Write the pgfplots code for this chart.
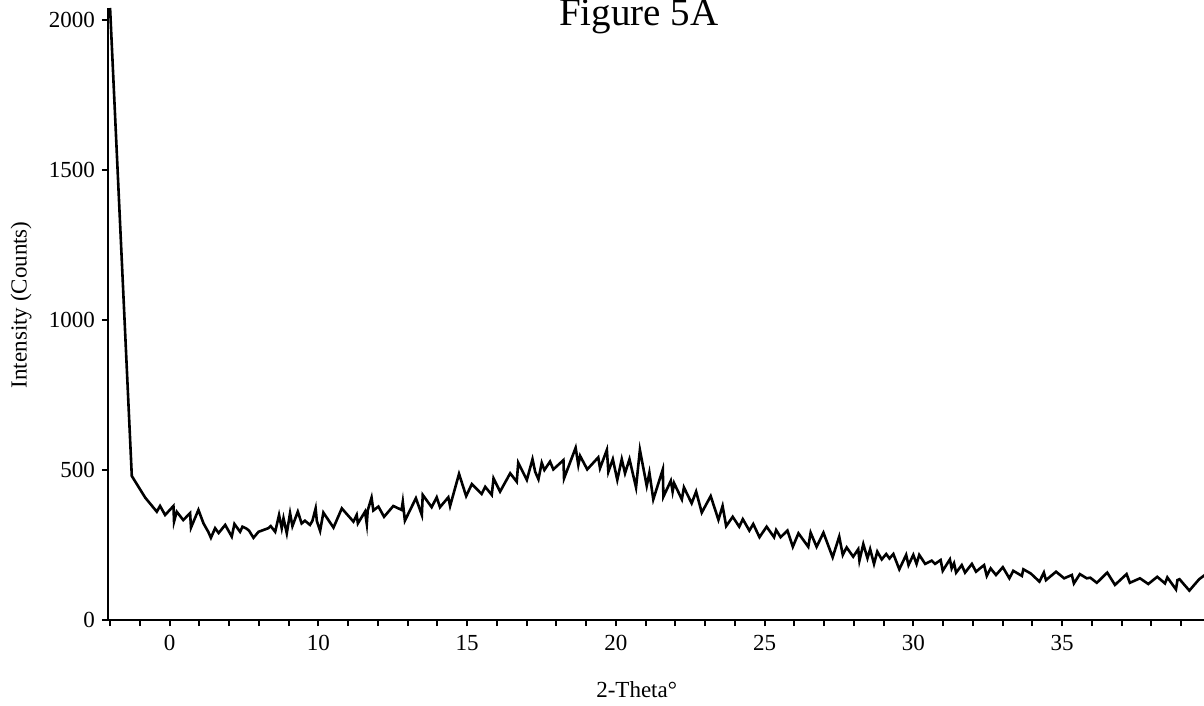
\documentclass[border=0pt]{standalone}
\usepackage{fontspec}
\setmainfont{Liberation Serif}
\usepackage{pgfplots}
\pgfplotsset{compat=1.18}
\begin{document}
\begin{tikzpicture}
\begin{axis}[
  at={(0,0)}, anchor=south west,
  scale only axis, width=548.4pt, height=306pt,
  xmin=2.93, xmax=39.8, ymin=0, ymax=2040,
  clip=false,
  axis x line=bottom, axis y line=left,
  axis line style={-, line width=1pt},
  xtick={5,10,15,20,25,30,35},
  xticklabels={0,10,15,20,25,30,35},
  minor xtick={3,4,...,39},
  ytick={0,500,1000,1500,2000},
  tick align=outside, major tick length=3pt, minor tick length=3pt,
  every tick/.style={black, line width=1pt},
  tick label style={font=\fontsize{11.5}{13}\selectfont},
  xticklabel style={yshift=-1pt},
  /pgf/number format/assume math mode=true,
  /pgf/number format/1000 sep={},
  xlabel={2-Theta°},
  ylabel={Intensity (Counts)},
  label style={font=\fontsize{11.5}{13}\selectfont},
  xlabel style={at={(axis description cs:0.482,0)}, anchor=center, yshift=-35pt},
  ylabel style={at={(axis description cs:-0.0793,0.515)}, anchor=center},
]
\addplot[black, line width=1.3pt, mark=none] coordinates {
(3.0,2040) (3.73,480) (4.18,408) (4.57,361) (4.68,380) (4.85,350) (5.13,380) (5.15,328)
(5.24,361) (5.46,333) (5.69,356) (5.72,308) (5.97,367) (6.14,322) (6.30,294) (6.39,274)
(6.53,306) (6.65,290) (6.87,317) (7.09,278) (7.18,320) (7.37,294) (7.45,311) (7.58,305)
(7.67,298) (7.82,274) (7.99,294) (8.32,306) (8.40,313) (8.55,294) (8.68,350) (8.77,306)
(8.83,339) (8.94,289) (9.05,356) (9.13,313) (9.31,361) (9.44,322) (9.55,331) (9.72,317)
(9.80,330) (9.91,372) (9.95,330) (10.06,297) (10.17,358) (10.51,308) (10.79,372) (11.18,328)
(11.29,350) (11.33,322) (11.57,361) (11.63,320) (11.66,365) (11.79,408) (11.85,365) (12.02,378)
(12.21,344) (12.52,380) (12.80,367) (12.84,394) (12.91,331) (13.28,406) (13.48,350) (13.51,417)
(13.81,376) (13.98,409) (14.09,376) (14.37,409) (14.43,380) (14.73,487) (14.97,413) (15.16,453)
(15.49,420) (15.61,444) (15.83,417) (15.89,472) (16.11,428) (16.45,489) (16.67,461) (16.72,524)
(17.01,467) (17.20,536) (17.29,494) (17.40,469) (17.51,524) (17.60,500) (17.79,528) (17.90,502)
(18.24,533) (18.26,472) (18.65,574) (18.74,517) (18.80,547) (19.04,502) (19.41,542) (19.47,506)
(19.70,567) (19.75,494) (19.90,536) (20.05,467) (20.20,536) (20.31,489) (20.46,536) (20.68,442)
(20.81,567) (21.04,447) (21.13,491) (21.26,402) (21.58,502) (21.60,411) (21.85,464) (21.91,428)
(21.96,456) (22.22,402) (22.29,442) (22.55,389) (22.70,428) (22.89,358) (23.19,413) (23.45,334)
(23.59,380) (23.71,313) (23.93,344) (24.15,311) (24.27,336) (24.49,298) (24.62,320) (24.83,276)
(25.07,311) (25.32,276) (25.39,300) (25.54,276) (25.77,298) (25.95,244) (26.14,289) (26.47,244)
(26.55,291) (26.75,244) (26.98,291) (27.29,209) (27.51,278) (27.63,217) (27.76,242) (27.98,211)
(28.15,236) (28.19,198) (28.32,253) (28.46,206) (28.55,236) (28.68,187) (28.79,228) (28.94,202)
(29.09,220) (29.20,205) (29.33,220) (29.53,169) (29.76,217) (29.84,183) (30.00,217) (30.11,187)
(30.20,217) (30.40,187) (30.62,198) (30.73,187) (30.92,200) (30.99,164) (31.23,202) (31.29,172)
(31.37,189) (31.44,158) (31.63,183) (31.74,158) (31.97,187) (32.11,161) (32.24,172) (32.38,183)
(32.47,147) (32.60,172) (32.78,150) (33.01,176) (33.23,139) (33.36,164) (33.65,147) (33.70,169)
(33.95,155) (34.24,128) (34.39,158) (34.46,133) (34.80,161) (35.07,139) (35.33,150) (35.40,122)
(35.60,153) (35.83,139) (35.95,141) (36.17,124) (36.52,158) (36.78,117) (37.17,153) (37.28,124)
(37.62,139) (37.90,120) (38.20,144) (38.46,122) (38.54,142) (38.83,102) (38.88,133) (38.95,136)
(39.28,98) (39.61,136) (39.80,150)
};
\node[anchor=base, font=\fontsize{19.5}{22}\selectfont] at (rel axis cs:0.484,0.9706) {Figure 5A};
\end{axis}
\pgfresetboundingbox
\path[use as bounding box] (-54pt,-43pt) rectangle (548pt,310pt);
\end{tikzpicture}
\end{document}
